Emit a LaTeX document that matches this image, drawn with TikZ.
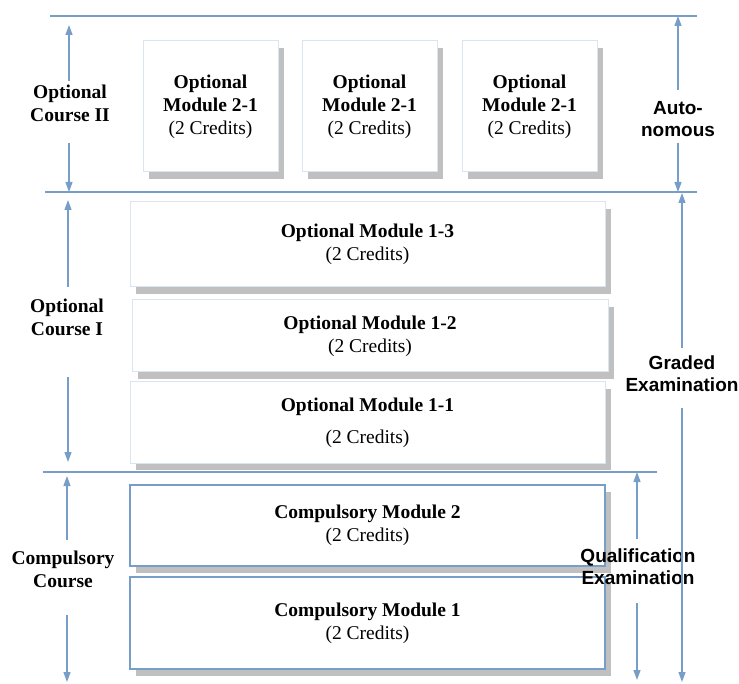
\documentclass[tikz,border=0pt]{standalone}
\usepackage{fontspec}
\setmainfont{Liberation Serif}
\setsansfont{Liberation Sans}
\usetikzlibrary{arrows.meta,positioning,shadows}

\definecolor{rulecol}{RGB}{118,158,200}
\definecolor{optedge}{RGB}{218,229,242}
\definecolor{shadowgray}{RGB}{192,192,192}

\begin{document}
\begin{tikzpicture}[x=1pt,y=-1pt]

\tikzstyle{modbox} = [fill=white, line width=1pt, align=center, inner sep=0pt,
  font=\fontsize{19.5}{23}\selectfont,
  drop shadow={shadow xshift=6pt, shadow yshift=-7pt, fill=shadowgray, opacity=1}]
\tikzstyle{optbox} = [modbox, draw=optedge]
\tikzstyle{compbox} = [modbox, draw=rulecol, line width=1.3pt]
\tikzstyle{leftlbl} = [align=center, inner sep=0pt, font=\fontsize{19.5}{23}\selectfont\bfseries]
\tikzstyle{rightlbl} = [align=center, inner sep=0pt, font=\fontsize{19}{22}\selectfont\sffamily\bfseries]
\tikzset{rule/.style={draw=rulecol, line width=1.2pt},
  arrline/.style={rule, -{Triangle[length=10pt,width=7pt]}}}

\useasboundingbox (0,0) rectangle (739,684);

% separating lines
\coordinate (l0w) at (50,16);  \coordinate (l0e) at (697,16);
\coordinate (l1w) at (45,192); \coordinate (l1e) at (697,192);
\coordinate (l2w) at (43,472); \coordinate (l2e) at (657,472);
\draw[rule] (l0w) -- (l0e);
\draw[rule] (l1w) -- (l1e);
\draw[rule] (l2w) -- (l2e);

% optional course II
\node[optbox, minimum width=135pt, minimum height=131pt] (m21a) at (210.5,106.5)
  {\textbf{Optional}\\\textbf{Module 2-1}\\(2 Credits)};
\node[optbox, minimum width=135pt, minimum height=131pt, right=23pt of m21a] (m21b)
  {\textbf{Optional}\\\textbf{Module 2-1}\\(2 Credits)};
\node[optbox, minimum width=135pt, minimum height=131pt, right=24pt of m21b] (m21c)
  {\textbf{Optional}\\\textbf{Module 2-1}\\(2 Credits)};

% optional course I
\node[optbox, minimum width=475pt, minimum height=85pt] (m13) at (367.5,244.5)
  {\textbf{Optional Module 1-3}\\(2 Credits)};
\node[optbox, minimum width=476pt, minimum height=72pt] (m12) at (370,336)
  {\textbf{Optional Module 1-2}\\(2 Credits)};
\node[optbox, minimum width=475pt, minimum height=81pt] (m11) at (367.5,422.5)
  {\textbf{Optional Module 1-1}\\[9pt](2 Credits)};

% compulsory course
\node[compbox, minimum width=475pt, minimum height=81pt] (c2) at (367.5,525.5)
  {\textbf{Compulsory Module 2}\\(2 Credits)};
\node[compbox, minimum width=475pt, minimum height=92pt] (c1) at (367.5,623)
  {\textbf{Compulsory Module 1}\\(2 Credits)};

% left labels
\node[leftlbl] (oc2lbl) at (70,103) {Optional\\Course II};
\node[leftlbl] (oc1lbl) at (67,317) {Optional\\Course I};
\node[leftlbl] (cclbl) at (63,569) {Compulsory\\Course};

\coordinate (oc2up) at (69,25);  \coordinate (oc2dn) at (69,192);
\coordinate (oc1up) at (68,200); \coordinate (oc1dn) at (68,462);
\coordinate (ccup) at (67,476);  \coordinate (ccdn) at (67,682);

\draw[arrline, shorten <=22pt] (oc2lbl.center -| oc2up) -- (oc2up);
\draw[arrline, shorten <=40pt] (oc2lbl.center -| oc2dn) -- (oc2dn);
\draw[arrline, shorten <=30pt] (oc1lbl.center -| oc1up) -- (oc1up);
\draw[arrline, shorten <=60pt] (oc1lbl.center -| oc1dn) -- (oc1dn);
\draw[arrline, shorten <=29pt] (cclbl.center -| ccup) -- (ccup);
\draw[arrline, shorten <=46pt] (cclbl.center -| ccdn) -- (ccdn);

% right labels
\node[rightlbl] (autolbl) at (678,119) {Auto-\\nomous};
\node[rightlbl] (gradlbl) at (682,374) {Graded\\Examination};
\node[rightlbl] (qualbl) at (638,567) {Qualification\\Examination};

\coordinate (autoup) at (678,16);  \coordinate (autodn) at (678,192);
\coordinate (gradup) at (682,193); \coordinate (graddn) at (682,682);
\coordinate (qualup) at (637,472); \coordinate (qualdn) at (637,680);

\draw[arrline, shorten <=29pt] (autolbl.center -| autoup) -- (autoup);
\draw[arrline, shorten <=24pt] (autolbl.center -| autodn) -- (autodn);
\draw[arrline, shorten <=26pt] (gradlbl.center -| gradup) -- (gradup);
\draw[arrline, shorten <=34pt] (gradlbl.center -| graddn) -- (graddn);
\draw[arrline, shorten <=28pt] (qualbl.center -| qualup) -- (qualup);
\draw[arrline, shorten <=36pt] (qualbl.center -| qualdn) -- (qualdn);

\end{tikzpicture}
\end{document}
